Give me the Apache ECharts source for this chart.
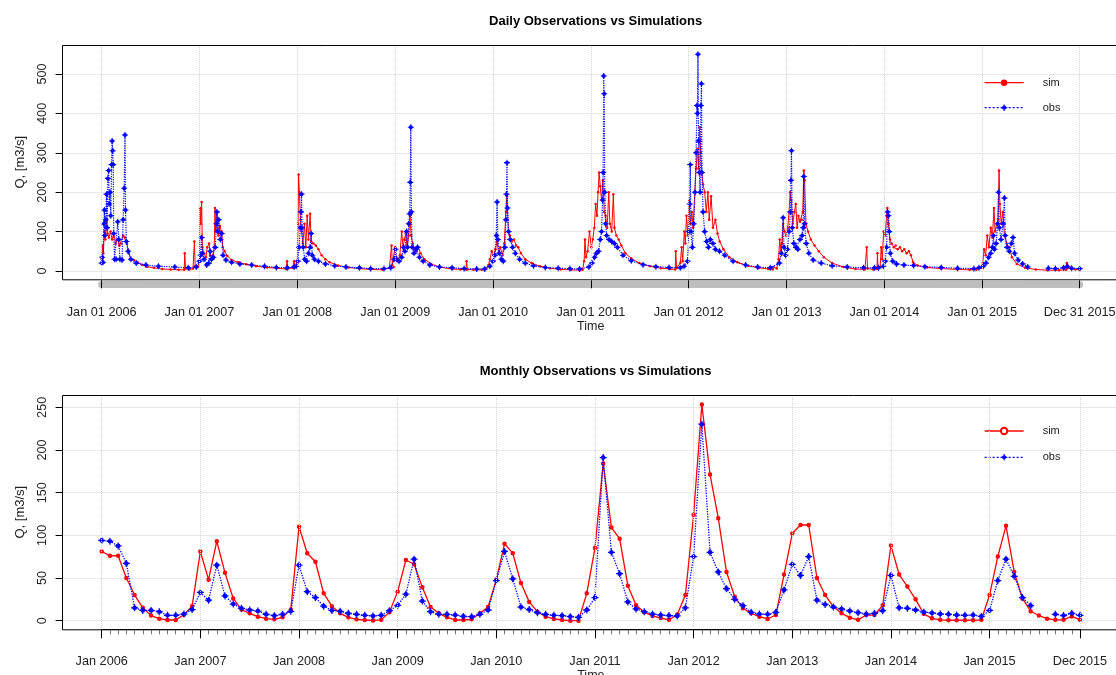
<!DOCTYPE html>
<html>
<head>
<meta charset="utf-8">
<script src="https://cdn.jsdelivr.net/npm/echarts@6/dist/echarts.min.js"></script>
<style>
  html, body { margin: 0; padding: 0; background: #fff; }
  #chart { width: 1116px; height: 675px; }
</style>
</head>
<body>
<div id="chart"></div>
<script>
// ---- Period covered ----
const firstDay = [2006, 1, 1];
const lastDay = [2015, 12, 31];
const years = [2006, 2007, 2008, 2009, 2010, 2011, 2012, 2013, 2014, 2015];
const monthNames = ['Jan', 'Feb', 'Mar', 'Apr', 'May', 'Jun', 'Jul', 'Aug', 'Sep', 'Oct', 'Nov', 'Dec'];

// ---- Daily discharge, Q [m3/s] ----
const simDaily = [
  ['2006-01-01',30],['2006-01-04',65],['2006-01-07',45],['2006-01-11',100],['2006-01-15',80],['2006-01-19',125],
  ['2006-01-23',95],['2006-01-28',85],['2006-02-03',100],['2006-02-09',80],['2006-02-15',95],['2006-02-22',70],
  ['2006-03-01',80],['2006-03-08',65],['2006-03-15',70],['2006-03-22',90],['2006-03-29',85],['2006-04-05',70],
  ['2006-04-12',45],['2006-04-20',30],['2006-05-01',28],['2006-05-15',22],['2006-05-31',16],['2006-06-20',11],
  ['2006-07-15',8],['2006-08-15',5],['2006-09-15',4],['2006-10-15',3],['2006-11-05',3],['2006-11-07',45],
  ['2006-11-10',6],['2006-11-25',4],['2006-12-08',6],['2006-12-13',75],['2006-12-16',12],['2006-12-26',10],
  ['2007-01-01',25],['2007-01-03',160],['2007-01-06',120],['2007-01-09',175],['2007-01-12',60],['2007-01-17',45],
  ['2007-01-25',35],['2007-01-30',60],['2007-02-06',70],['2007-02-10',40],['2007-02-18',35],['2007-02-25',60],
  ['2007-02-28',160],['2007-03-03',100],['2007-03-08',150],['2007-03-13',90],['2007-03-18',115],['2007-03-24',100],
  ['2007-03-29',60],['2007-04-05',50],['2007-04-15',38],['2007-05-01',28],['2007-05-25',22],['2007-06-25',17],
  ['2007-08-01',12],['2007-09-10',9],['2007-10-15',7],['2007-11-20',5],['2007-11-24',25],['2007-11-27',6],
  ['2007-12-15',8],['2007-12-20',25],['2007-12-24',10],
  ['2008-01-01',20],['2008-01-04',120],['2008-01-06',245],['2008-01-09',200],['2008-01-13',130],['2008-01-17',100],
  ['2008-01-22',70],['2008-01-28',120],['2008-02-02',60],['2008-02-07',140],['2008-02-12',80],['2008-02-18',145],
  ['2008-02-22',75],['2008-03-01',70],['2008-03-10',65],['2008-03-20',55],['2008-04-01',40],['2008-04-15',30],
  ['2008-05-01',22],['2008-06-01',14],['2008-07-10',9],['2008-08-20',6],['2008-10-01',4],['2008-11-15',3],
  ['2008-12-10',8],['2008-12-18',65],['2008-12-21',15],['2008-12-26',10],['2008-12-31',60],['2009-01-04',35],
  ['2009-01-10',25],['2009-01-18',40],['2009-01-25',100],['2009-01-30',60],['2009-02-04',80],['2009-02-09',95],
  ['2009-02-14',60],['2009-02-20',90],['2009-02-25',140],['2009-03-01',90],['2009-03-07',70],['2009-03-14',55],
  ['2009-03-20',50],['2009-03-28',60],['2009-04-05',45],['2009-04-20',30],['2009-05-15',18],['2009-06-15',10],
  ['2009-08-01',5],['2009-09-01',4],['2009-09-22',4],['2009-09-24',25],['2009-09-27',4],['2009-10-20',3],
  ['2009-11-20',3],['2009-12-05',5],['2009-12-15',15],['2009-12-20',30],['2009-12-27',50],
  ['2010-01-03',40],['2010-01-10',55],['2010-01-16',75],['2010-01-22',45],['2010-01-28',60],['2010-02-05',40],
  ['2010-02-12',70],['2010-02-18',150],['2010-02-22',190],['2010-02-27',100],['2010-03-05',90],['2010-03-12',75],
  ['2010-03-20',80],['2010-03-28',65],['2010-04-05',60],['2010-04-15',45],['2010-05-01',30],['2010-05-25',20],
  ['2010-06-25',12],['2010-08-01',7],['2010-09-10',4],['2010-10-20',3],['2010-11-20',2],['2010-12-01',3],
  ['2010-12-07',25],['2010-12-10',80],['2010-12-14',35],['2010-12-20',50],['2010-12-27',100],
  ['2011-01-03',60],['2011-01-08',80],['2011-01-14',110],['2011-01-19',170],['2011-01-24',140],['2011-01-28',200],
  ['2011-02-01',250],['2011-02-05',215],['2011-02-10',180],['2011-02-15',230],['2011-02-20',150],['2011-02-25',140],
  ['2011-03-03',110],['2011-03-09',200],['2011-03-13',120],['2011-03-20',100],['2011-03-26',195],['2011-03-30',110],
  ['2011-04-06',90],['2011-04-15',80],['2011-04-25',65],['2011-05-10',45],['2011-06-01',32],['2011-07-01',20],
  ['2011-08-10',12],['2011-09-20',7],['2011-10-25',5],['2011-11-12',4],['2011-11-14',50],['2011-11-17',8],
  ['2011-12-01',20],['2011-12-06',60],['2011-12-10',25],['2011-12-16',100],['2011-12-20',70],['2011-12-24',140],
  ['2011-12-29',90],['2012-01-03',180],['2012-01-08',120],['2012-01-13',150],['2012-01-18',110],['2012-01-24',200],
  ['2012-01-29',260],['2012-02-03',310],['2012-02-07',260],['2012-02-11',365],['2012-02-15',300],['2012-02-19',250],
  ['2012-02-24',220],['2012-03-01',200],['2012-03-07',150],['2012-03-13',200],['2012-03-18',130],['2012-03-25',190],
  ['2012-04-01',110],['2012-04-10',130],['2012-04-18',95],['2012-04-26',75],['2012-05-10',55],['2012-06-01',35],
  ['2012-07-01',22],['2012-08-10',13],['2012-09-20',8],['2012-10-25',5],['2012-11-10',4],['2012-11-12',10],
  ['2012-11-25',6],['2012-12-02',30],['2012-12-06',80],['2012-12-11',50],['2012-12-15',70],['2012-12-19',120],
  ['2012-12-24',100],['2012-12-30',90],['2013-01-05',110],['2013-01-10',150],['2013-01-14',200],['2013-01-18',180],
  ['2013-01-24',120],['2013-01-30',150],['2013-02-04',170],['2013-02-09',110],['2013-02-14',140],['2013-02-20',125],
  ['2013-02-26',130],['2013-03-02',150],['2013-03-06',255],['2013-03-09',230],['2013-03-14',120],['2013-03-22',100],
  ['2013-04-01',80],['2013-04-15',65],['2013-05-01',50],['2013-05-20',35],['2013-06-20',20],['2013-08-01',10],
  ['2013-09-15',5],['2013-10-20',4],['2013-10-27',60],['2013-10-30',6],['2013-11-20',4],['2013-12-04',5],
  ['2013-12-06',45],['2013-12-08',8],['2013-12-16',10],['2013-12-20',60],['2013-12-24',30],['2013-12-29',100],
  ['2014-01-04',90],['2014-01-09',140],['2014-01-12',160],['2014-01-16',120],['2014-01-22',80],['2014-01-28',70],
  ['2014-02-05',60],['2014-02-12',65],['2014-02-20',55],['2014-02-28',60],['2014-03-08',50],['2014-03-16',55],
  ['2014-03-25',45],['2014-04-02',50],['2014-04-10',40],['2014-04-18',22],['2014-05-05',14],['2014-06-10',9],
  ['2014-08-01',6],['2014-10-01',4],['2014-11-15',3],['2014-12-10',3],['2014-12-28',8],
  ['2015-01-03',20],['2015-01-08',55],['2015-01-14',40],['2015-01-20',90],['2015-01-26',60],['2015-02-02',110],
  ['2015-02-08',85],['2015-02-14',160],['2015-02-18',100],['2015-02-24',120],['2015-03-01',130],['2015-03-05',255],
  ['2015-03-08',170],['2015-03-13',120],['2015-03-19',150],['2015-03-25',90],['2015-04-02',70],['2015-04-12',60],
  ['2015-04-22',35],['2015-05-10',18],['2015-06-10',8],['2015-07-20',4],['2015-09-01',2],['2015-10-15',2],
  ['2015-11-10',3],['2015-11-13',20],['2015-11-16',8],['2015-12-01',5],['2015-12-15',4],['2015-12-31',3]
];

const obsDaily = [
  ['2006-01-01',20],['2006-01-03',35],['2006-01-06',22],['2006-01-09',120],['2006-01-11',155],['2006-01-13',90],
  ['2006-01-16',130],['2006-01-19',195],['2006-01-21',110],['2006-01-24',235],['2006-01-27',255],['2006-01-29',170],
  ['2006-02-01',200],['2006-02-04',140],['2006-02-07',270],['2006-02-09',330],['2006-02-11',305],['2006-02-13',270],
  ['2006-02-15',95],['2006-02-18',30],['2006-02-24',30],['2006-03-02',125],['2006-03-06',80],['2006-03-10',30],
  ['2006-03-18',28],['2006-03-22',130],['2006-03-26',210],['2006-03-29',345],['2006-03-31',155],['2006-04-03',75],
  ['2006-04-10',50],['2006-04-20',30],['2006-05-10',20],['2006-06-15',15],['2006-08-01',12],['2006-10-01',10],
  ['2006-11-20',8],['2006-12-20',10],
  ['2007-01-01',25],['2007-01-05',40],['2007-01-09',85],['2007-01-12',45],['2007-01-18',30],['2007-01-28',15],
  ['2007-02-05',20],['2007-02-10',50],['2007-02-15',30],['2007-02-22',35],['2007-03-01',60],['2007-03-05',120],
  ['2007-03-07',150],['2007-03-10',100],['2007-03-14',130],['2007-03-20',80],['2007-03-25',95],['2007-03-30',40],
  ['2007-04-10',28],['2007-05-01',22],['2007-06-01',18],['2007-07-15',15],['2007-09-01',12],['2007-10-15',9],
  ['2007-11-25',8],['2007-12-20',10],['2007-12-28',12],
  ['2008-01-03',25],['2008-01-08',60],['2008-01-12',110],['2008-01-15',150],['2008-01-17',195],['2008-01-19',110],
  ['2008-01-23',60],['2008-01-29',30],['2008-02-05',25],['2008-02-12',45],['2008-02-18',60],['2008-02-22',95],
  ['2008-02-26',40],['2008-03-05',30],['2008-03-20',25],['2008-04-15',18],['2008-05-20',13],['2008-07-01',10],
  ['2008-08-20',8],['2008-10-01',6],['2008-11-20',6],['2008-12-15',8],['2008-12-28',30],
  ['2009-01-02',55],['2009-01-06',30],['2009-01-15',25],['2009-01-25',35],['2009-02-01',60],['2009-02-06',50],
  ['2009-02-12',100],['2009-02-16',60],['2009-02-20',120],['2009-02-24',145],['2009-02-26',225],['2009-02-28',365],
  ['2009-03-02',150],['2009-03-05',60],['2009-03-12',45],['2009-03-20',55],['2009-03-25',60],['2009-04-01',35],
  ['2009-04-15',25],['2009-05-10',15],['2009-06-15',10],['2009-08-01',8],['2009-09-15',6],['2009-11-01',5],
  ['2009-12-01',5],['2009-12-20',12],
  ['2010-01-01',25],['2010-01-08',40],['2010-01-13',90],['2010-01-16',175],['2010-01-19',80],['2010-01-24',45],
  ['2010-02-01',30],['2010-02-08',25],['2010-02-14',60],['2010-02-18',130],['2010-02-20',195],['2010-02-22',275],
  ['2010-02-24',160],['2010-02-28',100],['2010-03-06',80],['2010-03-15',60],['2010-03-25',45],['2010-04-10',30],
  ['2010-05-01',20],['2010-06-01',13],['2010-07-15',9],['2010-09-01',7],['2010-10-15',6],['2010-11-20',5],
  ['2010-12-25',10],
  ['2011-01-05',20],['2011-01-15',35],['2011-01-22',45],['2011-01-30',50],['2011-02-05',80],['2011-02-10',100],
  ['2011-02-14',180],['2011-02-16',250],['2011-02-18',495],['2011-02-20',450],['2011-02-22',200],['2011-02-25',120],
  ['2011-03-01',90],['2011-03-10',80],['2011-03-20',75],['2011-03-30',70],['2011-04-10',60],['2011-05-01',40],
  ['2011-06-01',26],['2011-07-15',16],['2011-09-01',11],['2011-10-20',9],['2011-12-01',8],['2011-12-15',12],
  ['2011-12-28',25],
  ['2012-01-02',100],['2012-01-05',170],['2012-01-07',270],['2012-01-10',100],['2012-01-15',60],['2012-01-20',120],
  ['2012-01-25',200],['2012-01-29',300],['2012-02-01',420],['2012-02-03',400],['2012-02-05',550],['2012-02-07',330],
  ['2012-02-10',250],['2012-02-13',200],['2012-02-16',420],['2012-02-18',475],['2012-02-20',250],['2012-02-24',150],
  ['2012-03-01',100],['2012-03-08',75],['2012-03-15',60],['2012-03-22',80],['2012-04-01',70],['2012-04-10',55],
  ['2012-04-25',50],['2012-05-15',40],['2012-06-15',25],['2012-08-01',15],['2012-09-15',10],['2012-11-01',8],
  ['2012-12-05',20],['2012-12-12',45],['2012-12-19',135],['2012-12-22',60],['2012-12-28',40],
  ['2013-01-04',55],['2013-01-10',100],['2013-01-15',150],['2013-01-17',230],['2013-01-19',305],['2013-01-22',110],
  ['2013-01-28',70],['2013-02-05',60],['2013-02-12',55],['2013-02-20',80],['2013-02-28',90],['2013-03-04',110],
  ['2013-03-06',240],['2013-03-09',120],['2013-03-15',70],['2013-03-25',45],['2013-04-10',28],['2013-05-10',20],
  ['2013-06-20',13],['2013-08-15',10],['2013-10-15',8],['2013-11-25',8],['2013-12-10',8],['2013-12-28',12],
  ['2014-01-04',25],['2014-01-09',60],['2014-01-13',150],['2014-01-16',140],['2014-01-19',100],['2014-01-23',45],
  ['2014-02-01',25],['2014-02-15',18],['2014-03-15',15],['2014-04-20',14],['2014-06-01',11],['2014-08-01',9],
  ['2014-10-01',7],['2014-12-01',6],['2014-12-20',8],
  ['2015-01-05',12],['2015-01-15',20],['2015-01-25',35],['2015-02-02',45],['2015-02-08',60],['2015-02-12',90],
  ['2015-02-16',55],['2015-02-22',70],['2015-02-28',120],['2015-03-03',200],['2015-03-06',110],['2015-03-12',80],
  ['2015-03-20',120],['2015-03-25',185],['2015-03-28',90],['2015-04-04',60],['2015-04-12',50],['2015-04-20',70],
  ['2015-04-26',85],['2015-05-02',45],['2015-05-15',28],['2015-06-01',18],['2015-06-20',10],['2015-07-20',null],
  ['2015-09-05',7],['2015-10-01',6],['2015-11-01',8],['2015-11-15',12],['2015-12-01',7],['2015-12-31',6]
];

// ---- Monthly discharge, Q [m3/s], Jan 2006 .. Dec 2015 ----
const simMonthly = [
  81, 76, 76, 50, 30, 15, 6, 2.3, 0.8, 0.8, 7, 17,
  81, 48, 93, 56, 26, 13, 8.6, 4.7, 2.3, 1.6, 4, 13,
  110, 79, 69, 32, 17, 8.6, 3.9, 1.6, 0.8, 0.3, 1, 10,
  34, 71, 66, 39, 16, 8.6, 3.9, 0.8, 0.8, 1.6, 8.6, 16,
  48, 90, 79, 44, 22, 10.5, 4.7, 2, 0.8, 0, 0, 32,
  85, 184, 109, 96, 41, 18, 10, 5.5, 3, 1, 7, 30,
  124, 253, 171, 120, 57, 28, 14.5, 8.6, 4.7, 2, 6.6, 54,
  102, 112, 112, 50, 30, 16.4, 8.6, 3.5, 1, 6.6, 6.6, 18,
  88, 54, 40, 25, 8, 2.7, 1, 0.5, 0.5, 0.5, 0.5, 1,
  30, 75, 111, 57, 26, 11, 6, 2.3, 1, 1, 5, 1
];
const obsMonthly = [
  94, 93, 87.5, 67, 15, 12, 12, 10.5, 6.3, 6.3, 7.8, 13,
  33, 24, 65, 29, 19.5, 14.5, 12.5, 11.3, 7.4, 5.9, 7.4, 11,
  65, 34, 27, 17, 12, 11, 8.6, 7.4, 6.3, 5.5, 6.3, 11.7,
  18, 31, 72, 23, 10.5, 7.4, 7.4, 6.6, 5, 4.7, 7.4, 12.5,
  47, 81, 49, 16, 13, 9.4, 7.4, 6.3, 5.9, 4.7, 3.9, 12.5,
  27, 191, 80, 55, 22, 13.7, 10.5, 7.8, 6.6, 6, 5.5, 15,
  75, 230, 80, 57, 37.5, 25, 17.6, 9.8, 7.8, 7.4, 9.8, 36,
  66, 53, 75, 24, 19, 16, 13.7, 11.3, 9.4, 7.8, 8.6, 11.7,
  53, 15, 14.5, 12.5, 10, 9, 7.8, 7.4, 6.6, 6.3, 6.6, 5,
  12, 47, 72, 52, 27, 17.6, null, null, 7.4, 6, 8.6, 6.3
];

// ---- Axis scales ----
const dailyTicks = [0, 100, 200, 300, 400, 500];
const monthlyTicks = [0, 50, 100, 150, 200, 250];

// ---- Axis categories built from the period ----
const pad = n => String(n).padStart(2, '0');
const dayCats = [];
{
  const d = new Date(Date.UTC(firstDay[0], firstDay[1] - 1, firstDay[2]));
  const end = Date.UTC(lastDay[0], lastDay[1] - 1, lastDay[2]);
  while (d.getTime() <= end) {
    dayCats.push(d.getUTCFullYear() + '-' + pad(d.getUTCMonth() + 1) + '-' + pad(d.getUTCDate()));
    d.setUTCDate(d.getUTCDate() + 1);
  }
}
const monthCats = [];
years.forEach(y => monthNames.forEach((m, i) => monthCats.push(y + '-' + pad(i + 1))));

const dayLabel = v => {
  const [y, m, d] = v.split('-');
  return monthNames[+m - 1] + ' ' + d + ' ' + y;
};
const monthLabel = v => {
  const [y, m] = v.split('-');
  return monthNames[+m - 1] + ' ' + y;
};
const isDayMajor = (i, v) => v.endsWith('-01-01') || i === dayCats.length - 1;
const isMonthMajor = (i, v) => v.slice(5) === '01' || i === monthCats.length - 1;

// ---- Styles ----
const FONT = 'Liberation Sans, Arial, sans-serif';
const TXT = '#222';
const RED = '#ff0000', BLUE = '#0000ff';
const gridLine = { show: true, lineStyle: { color: '#d3d3d3', type: 'dotted', width: 1 } };
// circle with a cross through it
const circlePlus = 'path://M4.1,0H5.9V4.1H10V5.9H5.9V10H4.1V5.9H0V4.1H4.1Z M1.7,5A3.3,3.3 0 1 1 8.3,5A3.3,3.3 0 1 1 1.7,5Z';

// plot-box geometry (pixels)
const boxLeft = 62.6, boxWidth = 1056;
const tickLeft = 101.7;
const topBox = { top: 45, height: 234.3 };
const botBox = { top: 395, height: 234.3 };

const chart = echarts.init(document.getElementById('chart'), null, { renderer: 'canvas' });

const tMin = new Date(firstDay[0], firstDay[1] - 1, firstDay[2]).getTime();
const tMax = new Date(lastDay[0], lastDay[1] - 1, lastDay[2]).getTime();

const legendBase = {
  left: 984, orient: 'vertical', itemWidth: 39, itemHeight: 8, padding: 0, selectedMode: false,
  textStyle: { fontSize: 11, color: TXT, lineHeight: 14, padding: [0, 0, 0, 14], fontFamily: FONT }
};
const simKey = name => ({ name, lineStyle: { color: RED, width: 1.3, type: 'solid' }, itemStyle: { color: RED } });
const obsKey = name => ({ name, lineStyle: { color: BLUE, width: 1.3, type: [2, 2] }, itemStyle: { color: BLUE } });

const option = {
  animation: false,
  backgroundColor: '#fff',
  textStyle: { fontFamily: FONT },
  title: [
    { text: 'Daily Observations vs Simulations', left: 590.6, top: 10, textAlign: 'center',
      textStyle: { fontSize: 13, fontWeight: 'bold', color: '#000', fontFamily: FONT } },
    { text: 'Monthly Observations vs Simulations', left: 590.6, top: 360, textAlign: 'center',
      textStyle: { fontSize: 13, fontWeight: 'bold', color: '#000', fontFamily: FONT } }
  ],
  legend: [
    Object.assign({}, legendBase, { data: [simKey('sim'), obsKey('obs')], top: 75.7, itemGap: 11 }),
    Object.assign({}, legendBase, { data: [simKey('sim-monthly'), obsKey('obs-monthly')], top: 424, itemGap: 12.3,
      formatter: n => n.split('-')[0] })
  ],
  grid: [
    // daily: tick/data frame spanning the years, full box height
    { left: tickLeft, top: topBox.top, width: 978, height: topBox.height, outerBoundsMode: 'none' },
    // daily: value ticks 0..500, full box width
    { left: boxLeft, top: 74, width: boxWidth, height: 197, outerBoundsMode: 'none' },
    // monthly: tick/data frame
    { left: tickLeft, top: botBox.top, width: 978.3, height: botBox.height, outerBoundsMode: 'none' },
    // monthly: value ticks 0..250
    { left: boxLeft, top: 407.3, width: boxWidth, height: 213.4, outerBoundsMode: 'none' }
  ],
  xAxis: [
    { // 0: daily date ticks and labels
      gridIndex: 0, type: 'category', position: 'bottom', data: dayCats, boundaryGap: false, offset: 1, z: 5,
      axisLine: { show: false, onZero: false },
      axisTick: { show: true, interval: isDayMajor, length: 8, lineStyle: { color: '#000', width: 1 } },
      axisLabel: { show: true, interval: isDayMajor, formatter: dayLabel, margin: 26,
        fontSize: 12.7, color: TXT, fontFamily: FONT },
      splitLine: Object.assign({ interval: isDayMajor }, gridLine),
      name: 'Time', nameLocation: 'middle', nameGap: 39,
      nameTextStyle: { fontSize: 12.5, color: TXT, fontFamily: FONT }
    },
    { // 1: grey band under the daily axis
      gridIndex: 0, type: 'category', position: 'bottom', data: dayCats, boundaryGap: false, offset: 4.5, z: 1,
      axisLine: { show: true, onZero: false, lineStyle: { color: '#bebebe', width: 7 } },
      axisTick: { show: false }, axisLabel: { show: false }, splitLine: { show: false }
    },
    { // 2: daily time scale for the series
      gridIndex: 0, type: 'time', position: 'bottom', min: tMin, max: tMax, show: false,
      axisLine: { onZero: false }
    },
    { // 3: placeholder
      gridIndex: 1, type: 'value', min: 0, max: 1, show: false
    },
    { // 4: monthly minor ticks
      gridIndex: 2, type: 'category', position: 'bottom', data: monthCats, boundaryGap: false, z: 4,
      axisLine: { show: true, onZero: false, lineStyle: { color: '#000', width: 1 } },
      axisTick: { show: true, interval: 0, length: 5, lineStyle: { color: '#777', width: 1 } },
      axisLabel: { show: false }, splitLine: { show: false }
    },
    { // 5: monthly major ticks, labels and series
      gridIndex: 2, type: 'category', position: 'bottom', data: monthCats, boundaryGap: false, z: 5,
      axisLine: { show: false, onZero: false },
      axisTick: { show: true, interval: isMonthMajor, length: 9, lineStyle: { color: '#000', width: 1 } },
      axisLabel: { show: true, interval: isMonthMajor, formatter: monthLabel, margin: 26,
        fontSize: 12.7, color: TXT, fontFamily: FONT },
      splitLine: Object.assign({ interval: isMonthMajor }, gridLine),
      name: 'Time', nameLocation: 'middle', nameGap: 38,
      nameTextStyle: { fontSize: 12.5, color: TXT, fontFamily: FONT }
    },
    { // 6: placeholder
      gridIndex: 3, type: 'value', min: 0, max: 1, show: false
    }
  ],
  yAxis: [
    { // 0: daily data scale (box extent)
      gridIndex: 0, type: 'value', min: -21.1, max: 573.6,
      axisLine: { show: false, onZero: false }, axisTick: { show: false }, axisLabel: { show: false },
      splitLine: { show: false },
      name: 'Q, [m3/s]', nameLocation: 'middle', nameGap: 75,
      nameTextStyle: { fontSize: 13, color: TXT, fontFamily: FONT }
    },
    { // 1: daily value ticks
      gridIndex: 1, type: 'value', min: dailyTicks[0], max: dailyTicks[dailyTicks.length - 1],
      interval: dailyTicks[1] - dailyTicks[0],
      axisLine: { show: false, onZero: false },
      axisTick: { show: true, length: 7, lineStyle: { color: '#000' } },
      axisLabel: { rotate: 90, margin: 14, fontSize: 12.7, color: TXT, fontFamily: FONT },
      splitLine: gridLine
    },
    { // 2: monthly data scale (box extent)
      gridIndex: 2, type: 'value', min: -10.1, max: 264.2,
      axisLine: { show: false, onZero: false }, axisTick: { show: false }, axisLabel: { show: false },
      splitLine: { show: false },
      name: 'Q, [m3/s]', nameLocation: 'middle', nameGap: 75,
      nameTextStyle: { fontSize: 13, color: TXT, fontFamily: FONT }
    },
    { // 3: monthly value ticks
      gridIndex: 3, type: 'value', min: monthlyTicks[0], max: monthlyTicks[monthlyTicks.length - 1],
      interval: monthlyTicks[1] - monthlyTicks[0],
      axisLine: { show: false, onZero: false },
      axisTick: { show: true, length: 7, lineStyle: { color: '#000' } },
      axisLabel: { rotate: 90, margin: 14, fontSize: 12.7, color: TXT, fontFamily: FONT },
      splitLine: gridLine
    }
  ],
  graphic: [
    { type: 'rect', silent: true, z: 100,
      shape: { x: boxLeft - 0.1, y: topBox.top + 0.5, width: boxWidth, height: topBox.height },
      style: { fill: null, stroke: '#000', lineWidth: 1 } },
    { type: 'rect', silent: true, z: 100,
      shape: { x: boxLeft - 0.1, y: botBox.top + 0.5, width: boxWidth, height: botBox.height },
      style: { fill: null, stroke: '#000', lineWidth: 1 } }
  ],
  series: [
    { name: 'sim', type: 'line', xAxisIndex: 2, yAxisIndex: 0, data: simDaily,
      color: RED, showAllSymbol: true, symbol: 'circle', symbolSize: 2.5,
      lineStyle: { width: 1, color: RED }, itemStyle: { color: RED }, z: 2 },
    { name: 'obs', type: 'line', xAxisIndex: 2, yAxisIndex: 0, data: obsDaily, connectNulls: false,
      color: BLUE, showAllSymbol: true, symbol: circlePlus, symbolSize: 6,
      lineStyle: { width: 1.2, color: BLUE, type: 'dotted' }, itemStyle: { color: BLUE }, z: 3 },
    { name: 'sim-monthly', type: 'line', xAxisIndex: 5, yAxisIndex: 2, data: simMonthly, clip: false,
      color: RED, showAllSymbol: true, symbol: 'emptyCircle', symbolSize: 2.5,
      lineStyle: { width: 1.3, color: RED }, itemStyle: { color: RED, borderColor: RED }, z: 2 },
    { name: 'obs-monthly', type: 'line', xAxisIndex: 5, yAxisIndex: 2, data: obsMonthly, clip: false,
      connectNulls: false, color: BLUE, showAllSymbol: true, symbol: circlePlus, symbolSize: 7,
      lineStyle: { width: 1.3, color: BLUE, type: 'dotted' }, itemStyle: { color: BLUE }, z: 3 }
  ]
};

chart.setOption(option);
</script>
</body>
</html>
